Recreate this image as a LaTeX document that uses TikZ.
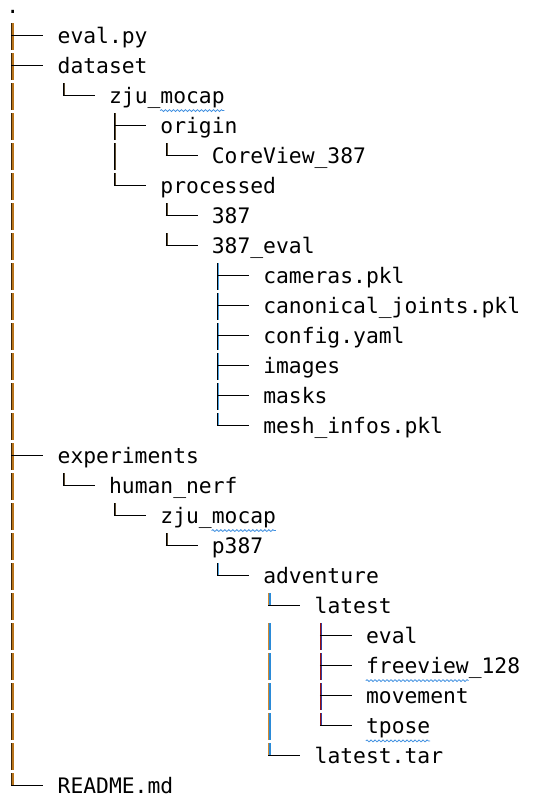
\documentclass[tikz,border=0pt]{standalone}
\usepackage{fontspec}
\newfontfamily\treefont{DejaVu Sans Mono}
\usetikzlibrary{decorations.pathmorphing,calc}
\definecolor{c1L}{HTML}{3D2608}
\definecolor{c1R}{HTML}{B8741C}
\definecolor{c2L}{HTML}{000000}
\definecolor{c2R}{HTML}{5A4A30}
\definecolor{c5L}{HTML}{000000}
\definecolor{c5R}{HTML}{4AA0E0}
\definecolor{c6L}{HTML}{D08A30}
\definecolor{c6R}{HTML}{2A8AD8}
\definecolor{c7L}{HTML}{9A1010}
\definecolor{c7R}{HTML}{3040A0}
\definecolor{squigblue}{HTML}{3F8FE0}
\begin{document}
\begin{tikzpicture}[x=0.75pt,y=-0.75pt,
  fname/.style={anchor=mid west,inner sep=0pt,font=\treefont\fontsize{16}{16}\selectfont,text=black},
  hline/.style={line width=1pt,black},
  vbar/.style={line width=0.8pt},
  squig/.style={draw=squigblue,line width=0.6pt,decorate,decoration={snake,segment length=3pt,amplitude=0.7pt}}]
\useasboundingbox (0,0) rectangle (533,797);
% file names
\foreach \r/\l/\t in {0/0/., 1/1/eval.py, 2/1/dataset, 3/2/zju\_mocap, 4/3/origin,
  5/4/CoreView\_387, 6/3/processed, 7/4/387, 8/4/387\_eval, 9/5/cameras.pkl,
  10/5/canonical\_joints.pkl, 11/5/config.yaml, 12/5/images, 13/5/masks,
  14/5/mesh\_infos.pkl, 15/1/experiments, 16/2/human\_nerf, 17/3/zju\_mocap,
  18/4/p387, 19/5/adventure, 20/6/latest, 21/7/eval, 22/7/freeview\_128,
  23/7/movement, 24/7/tpose, 25/6/latest.tar, 26/1/README.md}
  \node[fname] (n\r) at ({6+51.4*\l},{10.8+30*\r}) {\t};
% tree lines: column / row / type (0 = tee, 1 = bar, 2 = corner) / colour set
\foreach \c/\r/\k/\s in {1/1/0/1, 1/2/0/1, 1/3/1/1, 1/4/1/1, 1/5/1/1, 1/6/1/1, 1/7/1/1,
  1/8/1/1, 1/9/1/1, 1/10/1/1, 1/11/1/1, 1/12/1/1, 1/13/1/1, 1/14/1/1, 1/15/0/1,
  1/16/1/1, 1/17/1/1, 1/18/1/1, 1/19/1/1, 1/20/1/1, 1/21/1/1, 1/22/1/1, 1/23/1/1,
  1/24/1/1, 1/25/1/1, 1/26/2/1,
  2/3/2/2, 2/16/2/2,
  3/4/0/2, 3/5/1/2, 3/6/2/2, 3/17/2/2,
  4/5/2/2, 4/7/2/2, 4/8/2/2, 4/18/2/2,
  5/9/0/5, 5/10/0/5, 5/11/0/5, 5/12/0/5, 5/13/0/5, 5/14/2/5, 5/19/2/5,
  6/20/2/6, 6/21/1/6, 6/22/1/6, 6/23/1/6, 6/24/1/6, 6/25/2/6,
  7/21/0/7, 7/22/0/7, 7/23/0/7, 7/24/2/7}
{
  \pgfmathsetmacro\bx{12.4+51.4*(\c-1)}
  \pgfmathsetmacro\hy{5.8+30*\r}
  \ifnum\k=2
    \pgfmathsetmacro\by{\hy}
  \else
    \pgfmathsetmacro\by{\hy+14}
  \fi
  \draw[vbar,c\s L] (\bx-0.5,\hy-12.5) -- (\bx-0.5,\by);
  \draw[vbar,c\s R] (\bx+0.6,\hy-12.5) -- (\bx+0.6,\by);
  \ifnum\k=1\else
    \draw[hline] (\bx-1,\hy) -- (\bx+31,\hy);
  \fi
}
% spell-check underlines
\draw[squig] ($(n3.west)+(51.4,12.5)$) -- ($(n3.west)+(115.6,12.5)$);
\draw[squig] ($(n17.west)+(51.4,12.5)$) -- ($(n17.west)+(115.6,12.5)$);
\draw[squig] ($(n22.west)+(0,12.5)$) -- ($(n22.west)+(102.8,12.5)$);
\draw[squig] ($(n24.west)+(0,12.5)$) -- ($(n24.west)+(64.2,12.5)$);
\end{tikzpicture}
\end{document}
